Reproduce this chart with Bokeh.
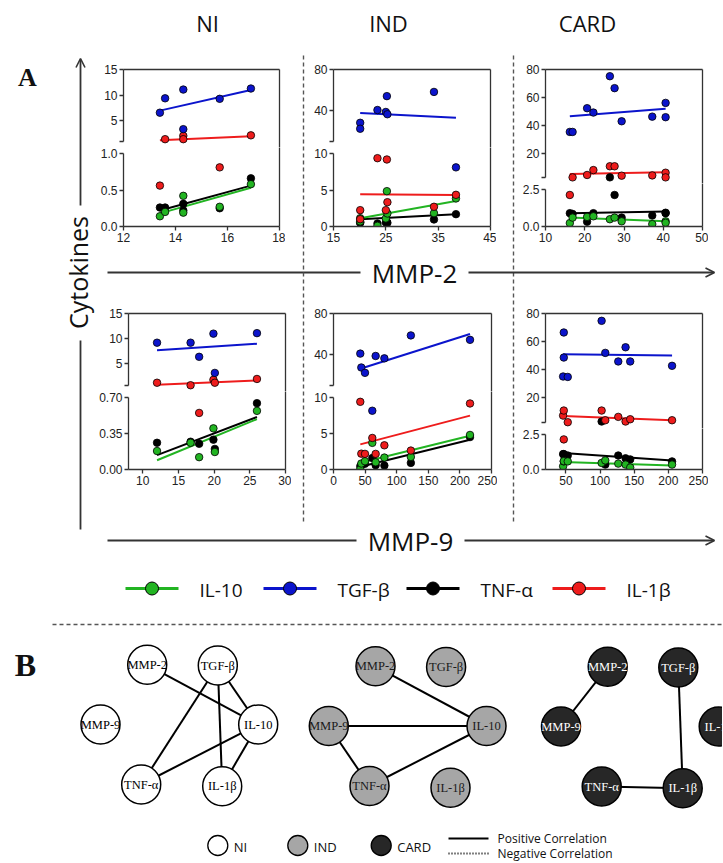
import math
from bokeh.plotting import figure
from bokeh.models import Range1d, LinearAxis, FixedTicker, Arrow, OpenHead
from bokeh.layouts import column
from bokeh.embed import file_html
from bokeh.resources import INLINE
from bokeh.core.properties import value

# ---------------- data ----------------
SERIES = ["IL-10", "TGF-β", "TNF-α", "IL-1β"]
COLORS = ["#22b422", "#0b14cc", "#000000", "#ee1c1c"]

NI_MMP2_X    = [13.4, 13.6, 14.3, 14.3, 15.7, 16.9]
NI_MMP2_IL10 = [0.14, 0.20, 0.42, 0.19, 0.27, 0.58]
NI_MMP2_TGFB = [6.6, 9.4, 11.1, 3.4, 9.3, 11.3]
NI_MMP2_TNFA = [0.26, 0.26, 0.31, 0.22, 0.25, 0.66]
NI_MMP2_IL1B = [0.56, 1.45, 2.1, 1.45, 0.81, 2.2]
NI_MMP2_FIT0 = [0.18, 7.0, 0.22, 1.25]
NI_MMP2_FIT1 = [0.53, 11.0, 0.56, 2.0]

IND_MMP2_X    = [20.1, 20.1, 23.4, 25.0, 25.2, 25.3, 34.2, 38.4]
IND_MMP2_IL10 = [1.14, 0.7, 0.09, 1.1, 4.84, 1.78, 1.83, 3.84]
IND_MMP2_TGFB = [28.2, 22.4, 40.6, 38.7, 54.1, 36.5, 58.2, 8.1]
IND_MMP2_TNFA = [0.55, 0.5, 0.41, 0.55, 0.6, 0.5, 0.96, 1.69]
IND_MMP2_IL1B = [2.24, 1.0, 9.36, 2.24, 9.18, 3.33, 2.7, 4.34]
IND_MMP2_FIT0 = [1.14, 37.8, 1.0, 4.43]
IND_MMP2_FIT1 = [3.5, 33.0, 1.69, 4.3]

CARD_MMP2_X    = [16.2, 16.9, 20.6, 22.2, 26.4, 27.6, 29.4, 37.2, 40.6, 40.6]
CARD_MMP2_IL10 = [0.23, 0.6, 0.65, 0.69, 0.49, 0.6, 0.35, 0.16, 0.35, 0.25]
CARD_MMP2_TGFB = [35.5, 35.5, 52.4, 49.3, 75.2, 66.7, 43.1, 46.4, 56.2, 46.0]
CARD_MMP2_TNFA = [0.9, 0.85, 0.32, 0.9, 3.1, 2.13, 0.6, 0.74, 0.93, 0.9]
CARD_MMP2_IL1B = [2.13, 3.1, 4.8, 8.3, 11.0, 11.0, 4.3, 4.5, 6.4, 3.1]
CARD_MMP2_FIT0 = [0.6, 46.7, 0.9, 5.5]
CARD_MMP2_FIT1 = [0.35, 52.0, 1.02, 6.7]

NI_MMP9_X    = [12.0, 16.7, 17.9, 19.9, 20.1, 26.0]
NI_MMP9_IL10 = [0.18, 0.26, 0.12, 0.40, 0.17, 0.57]
NI_MMP9_TGFB = [9.2, 9.2, 6.4, 11.0, 3.2, 11.1]
NI_MMP9_TNFA = [0.26, 0.27, 0.25, 0.29, 0.20, 0.645]
NI_MMP9_IL1B = [1.25, 0.75, 0.55, 1.84, 1.25, 2.0]
NI_MMP9_FIT0 = [0.09, 7.7, 0.14, 0.86]
NI_MMP9_FIT1 = [0.49, 9.0, 0.51, 1.7]

IND_MMP9_X    = [42.4, 44.0, 49.8, 61.4, 66.7, 80.5, 122.4, 216.0]
IND_MMP9_IL10 = [0.05, 0.83, 1.15, 3.7, 1.0, 1.66, 1.75, 4.8]
IND_MMP9_TGFB = [41.0, 27.5, 22.3, 8.16, 38.7, 36.4, 58.7, 54.4]
IND_MMP9_TNFA = [0.46, 0.6, 0.8, 1.6, 0.6, 0.55, 0.92, 4.5]
IND_MMP9_IL1B = [9.4, 2.2, 2.17, 4.38, 2.17, 3.36, 2.63, 9.17]
IND_MMP9_FIT0 = [0.94, 26.3, 0.39, 3.49]
IND_MMP9_FIT1 = [4.68, 60.1, 4.13, 7.48]

CARD_MMP9_X    = [45.8, 46.8, 46.8, 52.6, 102.2, 107.6, 126.6, 137.3, 144.1, 205.4]
CARD_MMP9_IL10 = [0.23, 0.58, 0.6, 0.58, 0.47, 0.65, 0.42, 0.35, 0.14, 0.35]
CARD_MMP9_TGFB = [35.2, 66.5, 48.7, 34.9, 74.8, 52.0, 45.9, 56.0, 45.9, 42.8]
CARD_MMP9_TNFA = [1.1, 1.05, 1.1, 1.0, 3.2, 0.35, 1.0, 0.8, 0.72, 0.58]
CARD_MMP9_IL1B = [7.4, 11.0, 2.15, 2.7, 11.0, 4.1, 6.5, 3.2, 4.8, 4.1]
CARD_MMP9_FIT0 = [0.54, 51.1, 1.17, 7.2]
CARD_MMP9_FIT1 = [0.28, 50.1, 0.65, 4.1]

# tick values / labels
NI_MMP2_XTICKS = [12, 14, 16, 18]
IND_MMP2_XTICKS = [15, 25, 35, 45]
CARD_MMP2_XTICKS = [10, 20, 30, 40, 50]
NI_MMP9_XTICKS = [10, 15, 20, 25, 30]
IND_MMP9_XTICKS = [0, 50, 100, 150, 200, 250]
CARD_MMP9_XTICKS = [50, 100, 150, 200, 250]
NI_UP_TICKS = [5, 10, 15]
IND_UP_TICKS = [40, 80]
CARD_UP_TICKS = [20, 40, 60, 80]
NI_MMP2_LOW_TICKS = [0, 0.5, 1.0]
NI_MMP2_LOW_LABELS = ["0.0", "0.5", "1.0"]
NI_MMP9_LOW_TICKS = [0, 0.35, 0.70]
NI_MMP9_LOW_LABELS = ["0.00", "0.35", "0.70"]
IND_LOW_TICKS = [0, 5, 10]
IND_LOW_LABELS = ["0", "5", "10"]
CARD_LOW_TICKS = [0, 2.5]
CARD_LOW_LABELS = ["0.0", "2.5"]

GROUPS = ["NI", "IND", "CARD"]
NODE_NAMES = ["MMP-2", "TGF-β", "MMP-9", "IL-10", "TNF-α", "IL-1β"]
NI_EDGES = [("MMP-2", "IL-10"), ("TGF-β", "TNF-α"), ("TGF-β", "IL-1β"),
            ("TGF-β", "IL-10"), ("IL-10", "TNF-α"), ("IL-10", "IL-1β")]
IND_EDGES = [("MMP-2", "IL-10"), ("MMP-9", "IL-10"), ("MMP-9", "TNF-α"), ("TNF-α", "IL-10")]
CARD_EDGES = [("MMP-2", "MMP-9"), ("TGF-β", "IL-1β"), ("TNF-α", "IL-1β")]

# ---------------- layout (reference pixel geometry) ----------------
W, H = 722, 862
BL, BR, BT, BB = 45, 6, 6, 30
AXC = "#333333"
SANS = "Open Sans"

GEOM = {
    "NI_MMP2":   dict(x0=123, x1=279, top=69, brk=141, ltop=153, bot=226, xr=(12, 18), ub=(1, 15), lb1=1.0),
    "IND_MMP2":  dict(x0=333, x1=490, top=69, brk=141, ltop=153, bot=226, xr=(15, 45), ub=(10, 80), lb1=10),
    "CARD_MMP2": dict(x0=545, x1=702, top=69, brk=177, ltop=189, bot=226, xr=(10, 50), ub=(3, 80), lb1=2.5),
    "NI_MMP9":   dict(x0=128, x1=285, top=313, brk=385, ltop=397, bot=469, xr=(8, 30), ub=(0.7, 15), lb1=0.70),
    "IND_MMP9":  dict(x0=333, x1=491, top=313, brk=385, ltop=397, bot=469, xr=(0, 250), ub=(10, 80), lb1=10),
    "CARD_MMP9": dict(x0=545, x1=702, top=313, brk=422, ltop=434, bot=469, xr=(20, 250), ub=(2.5, 80), lb1=2.5),
}


def style_axis(ax):
    ax.axis_line_color = AXC
    ax.axis_line_width = 1.3
    ax.major_tick_line_color = AXC
    ax.major_tick_line_width = 1.3
    ax.major_tick_out = 4
    ax.major_tick_in = 0
    ax.minor_tick_line_color = None
    ax.major_label_standoff = 2
    ax.major_label_text_font = "Liberation Sans"
    ax.major_label_text_font_size = "12px"
    ax.major_label_text_color = "#222222"
    return ax


def blank_axis():
    return LinearAxis(ticker=FixedTicker(ticks=[]), axis_line_color=AXC, axis_line_width=1.3,
                      major_tick_line_color=None, minor_tick_line_color=None,
                      major_tick_out=0, major_tick_in=0, major_label_standoff=0,
                      axis_label_standoff=0, major_label_text_font_size="0px")


def base_fig(fw, fh, xr, yr, top_b, bot_b):
    p = figure(frame_width=fw, frame_height=fh, x_range=xr, y_range=yr,
               output_backend="svg", toolbar_location=None,
               x_axis_location=None, y_axis_location=None,
               min_border_left=BL, min_border_right=BR,
               min_border_top=top_b, min_border_bottom=bot_b)
    p.frame_align = False
    p.background_fill_color = None
    p.border_fill_color = None
    p.outline_line_color = None
    p.grid.visible = False
    return p


DRAW_ORDER = [2, 0, 3, 1]  # TNF-a, IL-10, IL-1b, TGF-b


def build_panel(key, X, ys, fit0, fit1, xticks, uticks, lticks, llabels):
    g = GEOM[key]
    mid = (g["brk"] + g["ltop"]) // 2
    ub0, ub1 = g["ub"]
    lb1 = g["lb1"]
    us = (g["brk"] - g["top"]) / (ub1 - ub0)
    ls = (g["bot"] - g["ltop"]) / lb1
    xr = Range1d(*g["xr"])
    up_r = Range1d(ub0 - (mid - g["brk"]) / us, ub1)
    lo_r = Range1d(0, lb1 + (g["ltop"] - mid) / ls)
    fw = g["x1"] - g["x0"]
    up = base_fig(fw, mid - g["top"], xr, up_r, BT, 0)
    lo = base_fig(fw, g["bot"] - mid, xr, lo_r, 0, BB)

    ya = style_axis(LinearAxis(ticker=FixedTicker(ticks=[ub0] + uticks), bounds=(ub0, ub1),
                               major_label_overrides={ub0: ""}))
    up.add_layout(ya, "left")
    up.add_layout(blank_axis(), "right")
    up.add_layout(blank_axis(), "above")

    la = style_axis(LinearAxis(ticker=FixedTicker(ticks=lticks), bounds=(0, lb1),
                               major_label_overrides={t: s for t, s in zip(lticks, llabels)}))
    lo.add_layout(la, "left")
    lo.add_layout(blank_axis(), "right")
    xa = style_axis(LinearAxis(ticker=FixedTicker(ticks=xticks)))
    lo.add_layout(xa, "below")

    xmin, xmax = min(X), max(X)
    for i in DRAW_ORDER:
        p = up if max(fit0[i], fit1[i]) > lb1 else lo
        p.line([xmin, xmax], [fit0[i], fit1[i]], line_color=COLORS[i], line_width=2)
    for i in DRAW_ORDER:
        y = ys[i]
        ux = [a for a, b in zip(X, y) if b > lb1]
        uy = [b for b in y if b > lb1]
        lx = [a for a, b in zip(X, y) if b <= lb1]
        ly = [b for b in y if b <= lb1]
        for p, xx, yy in ((up, ux, uy), (lo, lx, ly)):
            if xx:
                p.scatter(xx, yy, size=7.5, marker="circle", fill_color=COLORS[i],
                          line_color="black", line_width=0.8)
    left = g["x0"] - BL
    up.styles = {"position": "absolute", "left": f"{left}px", "top": f"{g['top'] - BT}px"}
    lo.styles = {"position": "absolute", "left": f"{left}px", "top": f"{mid}px"}
    return [up, lo]


panels = []
panels += build_panel("NI_MMP2", NI_MMP2_X, [NI_MMP2_IL10, NI_MMP2_TGFB, NI_MMP2_TNFA, NI_MMP2_IL1B],
                      NI_MMP2_FIT0, NI_MMP2_FIT1, NI_MMP2_XTICKS, NI_UP_TICKS, NI_MMP2_LOW_TICKS, NI_MMP2_LOW_LABELS)
panels += build_panel("IND_MMP2", IND_MMP2_X, [IND_MMP2_IL10, IND_MMP2_TGFB, IND_MMP2_TNFA, IND_MMP2_IL1B],
                      IND_MMP2_FIT0, IND_MMP2_FIT1, IND_MMP2_XTICKS, IND_UP_TICKS, IND_LOW_TICKS, IND_LOW_LABELS)
panels += build_panel("CARD_MMP2", CARD_MMP2_X, [CARD_MMP2_IL10, CARD_MMP2_TGFB, CARD_MMP2_TNFA, CARD_MMP2_IL1B],
                      CARD_MMP2_FIT0, CARD_MMP2_FIT1, CARD_MMP2_XTICKS, CARD_UP_TICKS, CARD_LOW_TICKS, CARD_LOW_LABELS)
panels += build_panel("NI_MMP9", NI_MMP9_X, [NI_MMP9_IL10, NI_MMP9_TGFB, NI_MMP9_TNFA, NI_MMP9_IL1B],
                      NI_MMP9_FIT0, NI_MMP9_FIT1, NI_MMP9_XTICKS, NI_UP_TICKS, NI_MMP9_LOW_TICKS, NI_MMP9_LOW_LABELS)
panels += build_panel("IND_MMP9", IND_MMP9_X, [IND_MMP9_IL10, IND_MMP9_TGFB, IND_MMP9_TNFA, IND_MMP9_IL1B],
                      IND_MMP9_FIT0, IND_MMP9_FIT1, IND_MMP9_XTICKS, IND_UP_TICKS, IND_LOW_TICKS, IND_LOW_LABELS)
panels += build_panel("CARD_MMP9", CARD_MMP9_X, [CARD_MMP9_IL10, CARD_MMP9_TGFB, CARD_MMP9_TNFA, CARD_MMP9_IL1B],
                      CARD_MMP9_FIT0, CARD_MMP9_FIT1, CARD_MMP9_XTICKS, CARD_UP_TICKS, CARD_LOW_TICKS, CARD_LOW_LABELS)

# ---------------- background canvas (reference pixel coords) ----------------
bg = figure(width=W, height=H, x_range=Range1d(0, W), y_range=Range1d(H, 0),
            output_backend="svg", toolbar_location=None,
            x_axis_location=None, y_axis_location=None,
            min_border_left=0, min_border_right=0, min_border_top=0, min_border_bottom=0)
bg.frame_align = False
bg.outline_line_color = None
bg.grid.visible = False
bg.background_fill_color = "white"


def txt(x, y, s, size, font=SANS, color="#111111", align="center", style="normal", angle=0.0):
    bg.text(x=[x], y=[y], text=[s], text_font=value(font), text_font_size=value(size),
            text_color=color, text_align=align, text_baseline="middle",
            text_font_style=style, angle=angle)


# column titles
for name, cx in zip(GROUPS, [207, 388, 587]):
    txt(cx, 22, name, "22px")
txt(27, 77, "A", "26px", font="Liberation Serif", style="bold")
txt(25, 664, "B", "32px", font="Liberation Serif", style="bold")

# Cytokines vertical arrow
bg.segment(x0=[80], y0=[529], x1=[80], y1=[340], line_color=AXC, line_width=1.8)
bg.add_layout(Arrow(end=OpenHead(size=9, line_color=AXC, line_width=1.6),
                    x_start=80, y_start=205, x_end=80, y_end=58, line_color=AXC, line_width=1.8))
txt(77, 272, "Cytokines", "25px", angle=math.pi / 2)

# MMP axes arrows
for lab, yy, cx, g0, g1 in (("MMP-2", 272, 414, 360, 468), ("MMP-9", 540, 410, 356, 464)):
    bg.segment(x0=[107], y0=[yy], x1=[g0], y1=[yy], line_color=AXC, line_width=1.8)
    bg.add_layout(Arrow(end=OpenHead(size=9, line_color=AXC, line_width=1.6),
                        x_start=g1, y_start=yy, x_end=714, y_end=yy, line_color=AXC, line_width=1.8))
    txt(cx, yy, lab, "26px")

# dashed separators
bg.segment(x0=[303, 513], y0=[55, 55], x1=[303, 513], y1=[523, 523],
           line_color="#555555", line_width=1.4, line_dash="4 3")
bg.segment(x0=[52], y0=[624], x1=[W], y1=[624], line_color="#555555", line_width=1.4, line_dash="4 3")

# series legend
LEG_X = [125, 263, 406, 552]
for i, s in enumerate(SERIES):
    x0 = LEG_X[i]
    bg.segment(x0=[x0], y0=[588], x1=[x0 + 53], y1=[588], line_color=COLORS[i], line_width=3)
    bg.scatter([x0 + 26.5], [588], size=13, marker="circle", fill_color=COLORS[i],
               line_color="black", line_width=1)
    txt(x0 + 74, 589, s, "19px", align="left")

# networks
NODE_POS = {"MMP-2": (146.7, 664.3), "TGF-β": (217.3, 665.0), "MMP-9": (100.0, 724.0),
            "IL-10": (257.7, 724.0), "TNF-α": (140.7, 784.0), "IL-1β": (221.7, 785.7)}
NET_OFFSET = {"NI": (0.0, 0.0), "IND": (228.3, 1.5), "CARD": (460.5, 2.0)}
NET_FILL = {"NI": "white", "IND": "#a6a6a6", "CARD": "#272727"}
NET_TEXT = {"NI": "black", "IND": "#1a1a1a", "CARD": "white"}
NET_EDGES = {"NI": NI_EDGES, "IND": IND_EDGES, "CARD": CARD_EDGES}

for grp in GROUPS:
    dx, dy = NET_OFFSET[grp]
    pos = {n: (NODE_POS[n][0] + dx, NODE_POS[n][1] + dy) for n in NODE_NAMES}
    e = NET_EDGES[grp]
    bg.segment(x0=[pos[a][0] for a, b in e], y0=[pos[a][1] for a, b in e],
               x1=[pos[b][0] for a, b in e], y1=[pos[b][1] for a, b in e],
               line_color="black", line_width=2)
    bg.scatter([pos[n][0] for n in NODE_NAMES], [pos[n][1] for n in NODE_NAMES], size=39,
               marker="circle", fill_color=NET_FILL[grp], line_color="black", line_width=1.5)
    bg.text(x=[pos[n][0] for n in NODE_NAMES], y=[pos[n][1] for n in NODE_NAMES], text=NODE_NAMES,
            text_font=value("Liberation Serif"), text_font_size=value("12.5px"),
            text_color=NET_TEXT[grp], text_align="center", text_baseline="middle")

# bottom legend
for grp, cx in zip(GROUPS, [217.3, 297.3, 380.7]):
    bg.scatter([cx], [845], size=20, marker="circle", fill_color=NET_FILL[grp],
               line_color="black", line_width=1.3)
    txt(cx + 16, 846, grp, "13px", align="left")
bg.segment(x0=[448], y0=[838], x1=[488], y1=[838], line_color="black", line_width=2)
bg.segment(x0=[448], y0=[853], x1=[488], y1=[853], line_color="black", line_width=2, line_dash="1 2")
txt(497, 838, "Positive Correlation", "12px", align="left")
txt(497, 853, "Negative Correlation", "12px", align="left")

root = column(bg, *panels, styles={"position": "relative"})
open("out.html", "w").write(file_html(root, INLINE))
